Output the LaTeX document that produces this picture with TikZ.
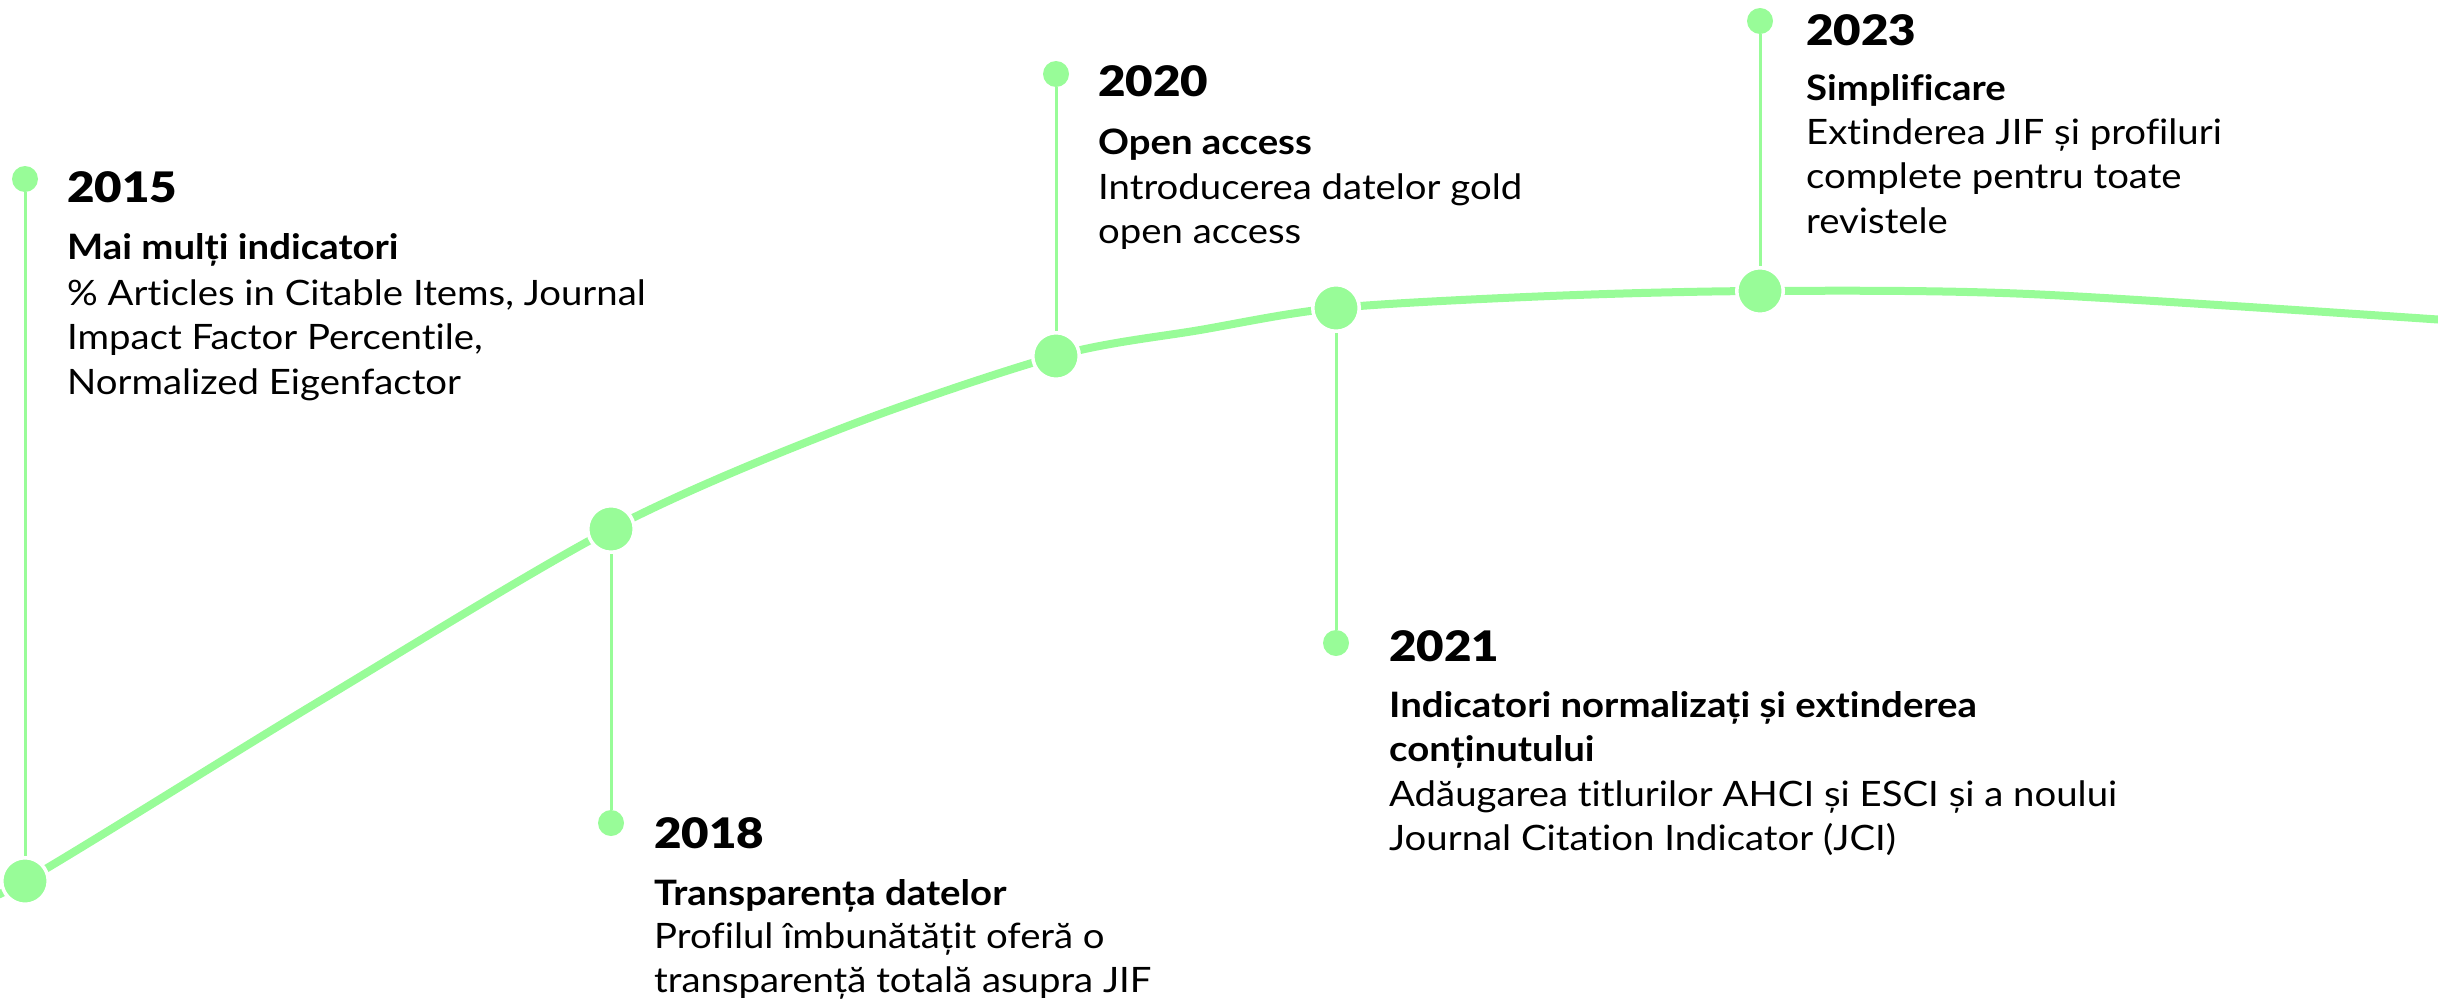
\documentclass[tikz,border=0pt]{standalone}
\usepackage{fontspec}
\setmainfont{Lato}[Ligatures=NoCommon,FakeStretch=1.095]
\newfontfamily\yearfont{Lato Black}[FakeStretch=1.13]
\definecolor{tl}{RGB}{152,252,152}
\begin{document}
\begin{tikzpicture}[x=1pt,y=-1pt,
  bigdot/.style={circle,fill=tl,draw=white,line width=3.5pt,minimum size=46.5pt,inner sep=0pt},
  smalldot/.style={circle,fill=tl,minimum size=26pt,inner sep=0pt},
  stem/.style={draw=tl,line width=3pt},
  curve/.style={draw=tl,line width=8pt},
  yr/.style={anchor=base west,inner sep=0pt,font=\yearfont\fontsize{42}{50}\selectfont},
  ttl/.style={anchor=base west,inner sep=0pt,font=\bfseries\fontsize{35}{44}\selectfont},
  txt/.style={anchor=base west,inner sep=0pt,font=\fontsize{35}{44}\selectfont},
]
\useasboundingbox (0,0) rectangle (2438,1001);
\clip (0,0) rectangle (2438,1001);

% curve anchor points
\coordinate (q0) at (-40,905);
\coordinate (p15) at (25,881);
\coordinate (q1) at (318,702);
\coordinate (p18) at (611,529);
\coordinate (q2) at (840,429);
\coordinate (p20) at (1056,356);
\coordinate (q3) at (1200,330);
\coordinate (p21) at (1336,308);
\coordinate (q4) at (1550,296);
\coordinate (p23) at (1760,291);
\coordinate (q5) at (2029,294);
\coordinate (q6) at (2460,321);

\draw[curve] plot[smooth,tension=0.5] coordinates {(q0) (p15) (q1) (p18) (q2) (p20) (q3) (p21) (q4) (p23) (q5) (q6)};

% big dots on the curve
\node[bigdot] (c15) at (p15) {};
\node[bigdot] (c18) at (p18) {};
\node[bigdot] (c20) at (p20) {};
\node[bigdot] (c21) at (p21) {};
\node[bigdot] (c23) at (p23) {};

% small dots
\node[smalldot] (s15) at (25,179) {};
\node[smalldot] (s18) at (611,823) {};
\node[smalldot] (s20) at (1056,74) {};
\node[smalldot] (s21) at (1336,643) {};
\node[smalldot] (s23) at (1760,21) {};

% stems
\draw[stem] (s15) -- (c15);
\draw[stem] (s18) -- (c18);
\draw[stem] (s20) -- (c20);
\draw[stem] (s21) -- (c21);
\draw[stem] (s23) -- (c23);

% 2015
\node[yr]  (y15)  at (67,202) {2015};
\node[ttl] (t15)  at (67,259) {Mai mulți indicatori};
\node[txt] (b15a) at (67,305) {\% Articles in Citable Items, Journal};
\node[txt] (b15b) at (67,349) {Impact Factor Percentile,};
\node[txt] (b15c) at (67,394) {Normalized Eigenfactor};

% 2018
\node[yr]  (y18)  at (654,848) {2018};
\node[ttl] (t18)  at (654,905) {Transparența datelor};
\node[txt] (b18a) at (654,948) {Profilul îmbunătățit oferă o};
\node[txt] (b18b) at (654,992) {transparență totală asupra JIF};

% 2020
\node[yr]  (y20)  at (1098,96) {2020};
\node[ttl] (t20)  at (1098,154) {Open access};
\node[txt] (b20a) at (1098,199) {Introducerea datelor gold};
\node[txt] (b20b) at (1098,243) {open access};

% 2021
\node[yr]  (y21)  at (1389,661) {2021};
\node[ttl] (t21a) at (1389,717) {Indicatori normalizați și extinderea};
\node[ttl] (t21b) at (1389,761) {conținutului};
\node[txt] (b21a) at (1389,806) {Adăugarea titlurilor AHCI și ESCI și a noului};
\node[txt] (b21b) at (1389,850) {Journal Citation Indicator (JCI)};

% 2023
\node[yr]  (y23)  at (1806,45) {2023};
\node[ttl] (t23)  at (1806,100) {Simplificare};
\node[txt] (b23a) at (1806,144) {Extinderea JIF și profiluri};
\node[txt] (b23b) at (1806,188) {complete pentru toate};
\node[txt] (b23c) at (1806,233) {revistele};
\end{tikzpicture}
\end{document}
